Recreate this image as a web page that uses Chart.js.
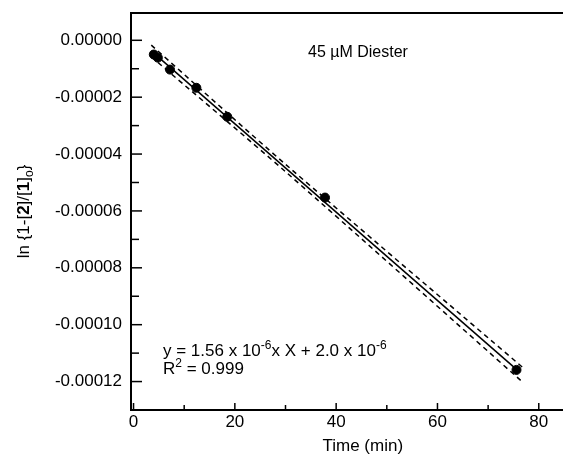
<!DOCTYPE html>
<html>
<head>
<meta charset="utf-8">
<script src="https://cdn.jsdelivr.net/npm/chart.js@4.4.0/dist/chart.umd.min.js"></script>
<style>
  html, body { margin: 0; padding: 0; background: #fff; overflow: hidden; width: 563px; height: 464px; }
  #wrap { position: relative; width: 600px; height: 464px; }
</style>
</head>
<body>
<div id="wrap"><canvas id="chart" width="600" height="464"></canvas></div>
<script>
// measured points (time in min, ln{1-[2]/[1]o})
const timeMin = [4.0, 4.8, 7.2, 12.4, 18.5, 37.8, 75.6];
const lnRatio = [-0.0000050, -0.0000061, -0.0000103, -0.0000167, -0.0000269, -0.0000553, -0.0001159];

// regression line and its dashed confidence bands
const fitX = [4.0, 75.6];
const fitY = [-0.0000045, -0.0001157];
const bandX = [3.5, 30, 77];
const upperY = [-0.0000017, -0.0000436, -0.0001153];
const lowerY = [-0.0000058, -0.0000462, -0.0001205];

// axis ticks
const xTicks = [0, 20, 40, 60, 80];
const xMinorTicks = [10, 30, 50, 70];
const yTicks = [0, -0.00002, -0.00004, -0.00006, -0.00008, -0.00010, -0.00012];
const yMinorTicks = [-0.00001, -0.00003, -0.00005, -0.00007, -0.00009, -0.00011];

const FONT = 'Liberation Sans, Arial, Helvetica, sans-serif';

function pts(xs, ys) {
    return xs.map((x, i) => ({ x, y: ys[i] }));
}

// frame top line, inward ticks and the text annotations
const decor = {
    id: 'decor',
    afterDraw(chart) {
        const { ctx, chartArea: a, scales: { x, y } } = chart;
        ctx.save();
        ctx.strokeStyle = '#000';
        ctx.lineWidth = 2;
        ctx.beginPath();
        ctx.moveTo(a.left - 1, a.top);
        ctx.lineTo(a.right, a.top);
        ctx.stroke();

        ctx.lineWidth = 1.5;
        const seg = (x1, y1, x2, y2) => {
            ctx.beginPath(); ctx.moveTo(x1, y1); ctx.lineTo(x2, y2); ctx.stroke();
        };
        xTicks.forEach(v => { const p = x.getPixelForValue(v); seg(p, a.bottom, p, a.bottom - 7); });
        xMinorTicks.forEach(v => { const p = x.getPixelForValue(v); seg(p, a.bottom, p, a.bottom - 5); });
        yTicks.forEach(v => { const p = y.getPixelForValue(v); seg(a.left, p, a.left + 11, p); });
        yMinorTicks.forEach(v => { const p = y.getPixelForValue(v); seg(a.left, p, a.left + 8, p); });

        ctx.fillStyle = '#000';
        ctx.textBaseline = 'alphabetic';
        ctx.textAlign = 'left';

        // runs of text: [string, size, weight, baseline shift]
        const run = (parts, x0, y0) => {
            let cx = x0;
            parts.forEach(([s, size, weight, dy]) => {
                ctx.font = `${weight} ${size}px ${FONT}`;
                ctx.fillText(s, cx, y0 + dy);
                cx += ctx.measureText(s).width;
            });
        };

        run([['45 \u00b5M Diester', 16, 'normal', 0]], 308, 57);
        run([
            ['y = 1.56 x 10', 17, 'normal', 0],
            ['-6', 12, 'normal', -7],
            ['x X + 2.0 x 10', 17, 'normal', 0],
            ['-6', 12, 'normal', -7]
        ], 163, 356);
        run([
            ['R', 17, 'normal', 0],
            ['2', 12, 'normal', -7],
            [' = 0.999', 17, 'normal', 0]
        ], 163, 374);

        // rotated y axis title
        ctx.save();
        ctx.translate(29, (a.top + a.bottom) / 2);
        ctx.rotate(-Math.PI / 2);
        const title = [
            ['ln {1-[', 17, 'normal', 0],
            ['2', 17, 'bold', 0],
            [']/[', 17, 'normal', 0],
            ['1', 17, 'bold', 0],
            [']', 17, 'normal', 0],
            ['o', 12, 'normal', 4],
            ['}', 17, 'normal', 0]
        ];
        let w = 0;
        title.forEach(([s, size, weight]) => {
            ctx.font = `${weight} ${size}px ${FONT}`;
            w += ctx.measureText(s).width;
        });
        run(title, -w / 2, 0);
        ctx.restore();

        ctx.restore();
    }
};

new Chart(document.getElementById('chart'), {
    type: 'scatter',
    data: {
        datasets: [
            {
                data: pts(timeMin, lnRatio),
                backgroundColor: '#000',
                borderColor: '#000',
                pointRadius: 4.5,
                showLine: false,
            },
            {
                data: pts(fitX, fitY),
                showLine: true,
                borderColor: '#000',
                borderWidth: 1.5,
                pointRadius: 0,
            },
            {
                data: pts(bandX, upperY),
                showLine: true,
                borderColor: '#000',
                borderWidth: 1.5,
                borderDash: [5, 4],
                pointRadius: 0,
                tension: 0.3,
            },
            {
                data: pts(bandX, lowerY),
                showLine: true,
                borderColor: '#000',
                borderWidth: 1.5,
                borderDash: [5, 4],
                pointRadius: 0,
                tension: 0.3,
            },
        ],
    },
    options: {
        responsive: false,
        animation: false,
        devicePixelRatio: 1,
        layout: { padding: { top: 13, right: 0, bottom: 7, left: 0 } },
        plugins: { legend: { display: false }, tooltip: { enabled: false } },
        scales: {
            x: {
                type: 'linear',
                min: -0.5,
                max: 91,
                afterBuildTicks(scale) { scale.ticks = xTicks.map(v => ({ value: v })); },
                afterFit(scale) {
                    scale.height = 47;
                    scale.paddingLeft = 0;
                    scale.paddingRight = 0;
                },
                grid: { display: true, drawOnChartArea: false, drawTicks: false },
                border: { display: true, color: '#000', width: 2 },
                ticks: {
                    color: '#000',
                    padding: 2,
                    maxRotation: 0,
                    font: { family: FONT, size: 17 },
                },
                title: {
                    display: true,
                    text: 'Time (min)',
                    color: '#000',
                    font: { family: FONT, size: 17 },
                    padding: 0,
                },
            },
            y: {
                type: 'linear',
                min: -0.00013,
                max: 0.0000096,
                afterBuildTicks(scale) { scale.ticks = yTicks.map(v => ({ value: v })); },
                afterFit(scale) {
                    scale.width = 131;
                    scale.paddingTop = 0;
                    scale.paddingBottom = 0;
                },
                grid: { display: true, drawOnChartArea: false, drawTicks: false },
                border: { display: true, color: '#000', width: 2 },
                ticks: {
                    color: '#000',
                    padding: 9,
                    font: { family: FONT, size: 17 },
                    callback: v => v.toFixed(5),
                },
            },
        },
    },
    plugins: [decor],
});
</script>
</body>
</html>
